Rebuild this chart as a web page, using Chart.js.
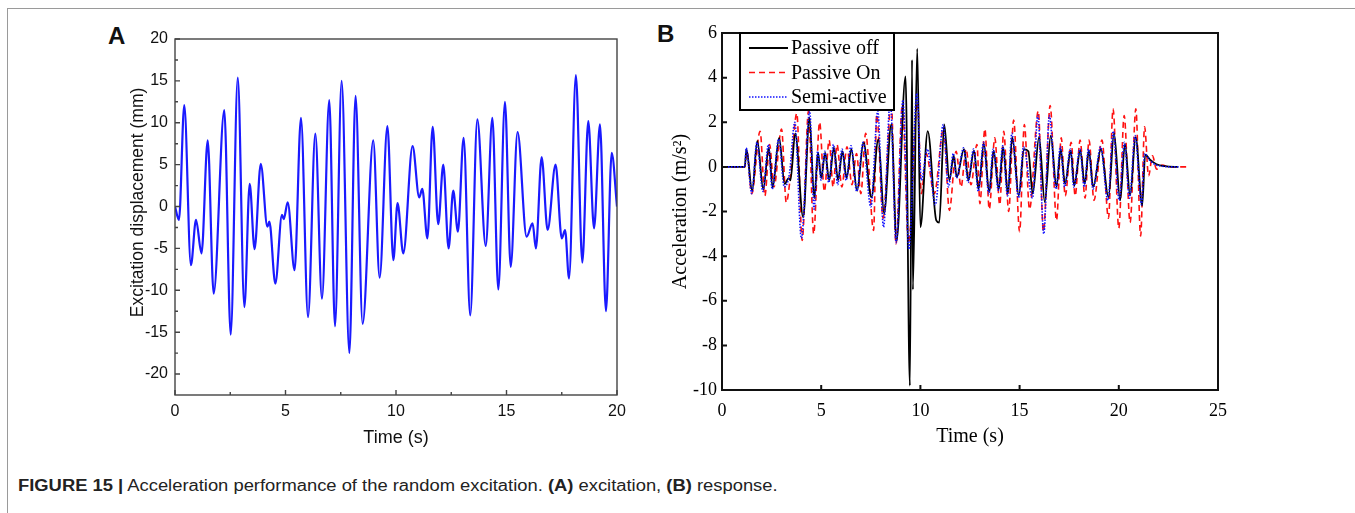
<!DOCTYPE html>
<html>
<head>
<meta charset="utf-8">
<script src="https://cdn.jsdelivr.net/npm/chart.js@4.4.1/dist/chart.umd.min.js"></script>
<style>
  body { margin: 0; background: #fff; width: 1355px; height: 513px; position: relative; overflow: hidden;
         font-family: "Liberation Sans", Arial, sans-serif; }
  #page { position: absolute; left: 7px; top: 8px; width: 1400px; height: 600px;
          border-top: 1px solid #9a9a9a; border-left: 1px solid #9a9a9a; }
  .panel { position: absolute; font-weight: bold; font-size: 24px; color: #111; }
  #caption { position: absolute; left: 18px; top: 477px; font-size: 16px; color: #222; white-space: nowrap;
             transform: scaleX(1.148); transform-origin: 0 0; }
  canvas { position: absolute; }
</style>
</head>
<body>
<div id="page"></div>
<div class="panel" style="left:108px;top:22px">A</div>
<div class="panel" style="left:657px;top:20px">B</div>
<canvas id="chartA" width="520" height="430" style="left:120px;top:20px"></canvas>
<canvas id="chartB" width="700" height="435" style="left:655px;top:15px"></canvas>
<div id="caption"><b>FIGURE 15 |</b> Acceleration performance of the random excitation. <b>(A)</b> excitation, <b>(B)</b> response.</div>
<script>
// (A) excitation displacement, mm  -- peaks and troughs
const timeA = [0, 0.18, 0.42, 0.72, 0.95, 1.2, 1.48, 1.75, 2.23, 2.52,
  2.84, 3.14, 3.38, 3.6, 3.88, 4.18, 4.27, 4.54, 4.84, 4.92,
  5.1, 5.41, 5.7, 6.02, 6.35, 6.65, 6.98, 7.24, 7.54, 7.89,
  8.17, 8.49, 8.97, 9.26, 9.61, 9.88, 10.07, 10.33, 10.75, 11.05,
  11.19, 11.42, 11.66, 11.91, 12.14, 12.38, 12.59, 12.8, 13.06, 13.36,
  13.68, 14.06, 14.36, 14.63, 14.93, 15.19, 15.5, 15.91, 16.18, 16.33,
  16.59, 16.86, 17.22, 17.5, 17.65, 17.83, 18.14, 18.43, 18.7, 18.96,
  19.23, 19.5, 19.76, 20];
const displacementA = [0, -1.6, 12.1, -7.0, -1.6, -5.6, 7.9, -10.4, 11.5, -15.3,
  15.4, -12.0, 2.7, -5.1, 5.1, -2.4, -1.8, -9.2, -1.0, -1.5,
  0.5, -7.6, 10.6, -13.2, 8.7, -11.0, 12.7, -14.3, 15.0, -17.5,
  13.2, -14.0, 7.9, -8.5, 9.6, -6.4, 0.4, -5.6, 7.2, 1.1,
  2.1, -3.8, 9.5, -2.1, 5.0, -5.0, 1.9, -3.0, 8.2, -13.0,
  10.4, -4.7, 10.6, -9.9, 12.5, -7.2, 8.9, -3.6, -2.0, -5.0,
  5.9, -2.8, 5.0, -3.8, -2.8, -8.6, 15.7, -6.7, 10.2, -2.6,
  9.8, -12.5, 6.4, 0];

// (B) acceleration response, m/s^2
const offTime = [0, 1.15, 1.23, 1.52, 1.78, 2.08, 2.36, 2.55, 2.88, 3.16,
  3.35, 3.45, 3.69, 4.09, 4.41, 4.65, 4.84, 5.0, 5.2, 5.4,
  5.64, 5.85, 6.07, 6.28, 6.52, 6.81, 7.13, 7.53, 7.88, 8.17,
  8.53, 8.8, 9.25, 9.47, 9.58, 9.62, 9.84, 10.0, 10.37, 10.8,
  10.95, 11.2, 11.46, 11.68, 11.83, 12.2, 12.42, 12.7, 12.93, 13.2,
  13.47, 13.69, 13.95, 14.17, 14.41, 14.63, 14.96, 15.22, 15.44, 15.66,
  15.98, 16.27, 16.57, 16.86, 17.07, 17.29, 17.58, 17.75, 18.06, 18.28,
  18.49, 18.71, 19.1, 19.48, 19.76, 20.07, 20.31, 20.57, 20.85, 21.18,
  21.33, 21.6, 21.9, 22.3, 22.8, 23.0];
const offAcc = [0, 0, 0.8, -1.07, 1.16, -1.0, 0.86, -0.92, 1.3, -0.77,
  -0.5, -0.6, 1.5, -2.26, 2.2, -1.4, 0.64, -0.5, 0.64, -0.6,
  0.86, -0.6, 0.7, -0.5, 0.8, -1.07, 1.1, -1.37, 1.23, -2.1,
  1.9, -3.3, 4.06, -9.8, 4.8, -5.5, 5.3, -2.7, 1.6, -2.4,
  -2.5, 1.9, -0.6, 0.5, -0.46, 0.8, -0.6, 0.73, -1.0, 1.03,
  -1.13, 0.73, -1.0, 0.88, -1.2, 1.33, -1.28, 0.8, 0.7, -1.2,
  1.33, -1.58, 1.4, -0.9, 0.8, -0.76, 0.73, -0.84, 0.73, -0.76,
  0.73, -0.9, 0.8, -1.36, 1.5, -1.5, 1.03, -1.28, 1.33, -1.73,
  0.55, 0.3, 0.12, 0.03, 0, 0];

const onTime = [0, 1.15, 1.25, 1.5, 1.92, 2.16, 2.4, 2.62, 3.0, 3.24,
  3.45, 3.77, 4.04, 4.36, 4.62, 4.92, 5.16, 5.4, 5.6, 5.8,
  6.04, 6.3, 6.55, 6.78, 7.0, 7.24, 7.64, 7.8, 8.12, 8.53, 8.77,
  9.09, 9.4, 9.86, 10.05, 10.29, 10.7, 11.17, 11.46, 11.8, 12.05,
  12.3, 12.55, 12.85, 13.0, 13.25, 13.47, 13.75, 14.0, 14.2, 14.45,
  14.7, 15.0, 15.24, 15.5, 15.94, 16.2, 16.54, 16.86, 17.1, 17.3,
  17.6, 17.8, 18.05, 18.3, 18.5, 18.75, 19.15, 19.48, 19.71, 20.0,
  20.27, 20.57, 20.86, 21.1, 21.3, 21.5, 21.7, 21.9, 22.2, 22.5,
  23.0, 23.5];
const onAcc = [0, 0, 0.7, -1.2, 1.6, -1.3, 1.0, -0.9, 1.7, -1.6,
  -0.4, 2.4, -3.3, 2.5, -3.0, 2.0, -1.1, 1.2, -0.9, 1.0,
  -0.9, 0.9, -0.8, 0.6, -1.2, 1.5, -2.85, 2.35, -2.3, 2.9, -3.45,
  2.8, -3.4, 2.9, -1.2, 0.6, -1.2, 1.75, -1.95, 0.7, -0.9,
  0.8, -0.8, 1.0, -1.65, 1.7, -1.9, 1.3, -1.7, 1.6, -2.0,
  2.1, -2.9, 1.9, -1.9, 2.5, -2.9, 2.75, -2.4, 1.3, -1.3,
  1.1, -1.3, 1.2, -1.4, 1.2, -1.5, 1.2, -2.3, 2.6, -2.75,
  2.3, -2.5, 2.6, -3.1, 1.8, -0.4, 0.5, -0.1, 0.08, 0,
  0, 0];

const semiTime = [0, 1.15, 1.22, 1.5, 1.76, 2.06, 2.34, 2.53, 2.86, 3.14,
  3.4, 3.67, 4.0, 4.42, 4.64, 4.82, 5.0, 5.18, 5.38, 5.62,
  5.83, 6.05, 6.26, 6.5, 6.79, 7.11, 7.5, 7.85, 8.14, 8.48,
  8.78, 9.12, 9.42, 9.82, 10.05, 10.35, 10.75, 11.15, 11.42, 11.66,
  11.82, 12.18, 12.4, 12.68, 12.92, 13.18, 13.45, 13.67, 13.93, 14.15,
  14.39, 14.61, 14.95, 15.2, 15.65, 15.92, 16.22, 16.5, 16.84, 17.05,
  17.27, 17.56, 17.73, 18.04, 18.26, 18.47, 18.7, 19.08, 19.45, 19.72,
  20.02, 20.28, 20.54, 20.82, 21.15, 21.3, 21.55, 21.85, 22.2, 22.6,
  23.0];
const semiAcc = [0, 0, 0.85, -1.2, 1.1, -1.1, 1.0, -1.0, 1.25, -0.9,
  -0.3, 2.0, -3.2, 2.5, -1.9, 0.7, -0.6, 0.7, -0.7, 1.0,
  -0.8, 0.8, -0.6, 0.95, -1.1, 1.1, -1.8, 2.5, -2.7, 3.0,
  -3.4, 3.0, -3.7, 3.3, -0.6, 0.8, -1.7, 1.9, -0.9, 0.6,
  -0.5, 0.85, -0.7, 0.8, -1.1, 1.1, -1.2, 0.8, -1.05, 0.95,
  -1.3, 1.5, -1.4, 0.9, -1.4, 2.3, -3.0, 2.3, -1.0, 0.9,
  -0.9, 0.8, -0.9, 0.8, -0.9, 0.8, -1.0, 0.9, -1.5, 1.6,
  -1.5, 1.1, -1.4, 1.4, -1.7, 0.6, 0.3, 0.1, 0.03, 0,
  0];

const seriesLabels = ["Passive off", "Passive On", "Semi-active"];

function toPoints(xs, ys) {
    return xs.map((x, i) => ({x: x, y: ys[i]}));
}

// box round the plot plus inward tick marks
const frameTicks = {
    id: 'frameTicks',
    afterDatasetsDraw(chart, args, o) {
        const {ctx, chartArea: a, scales} = chart;
        const xs = scales.x.ticks.map(t => t.value);
        const ys = scales.y.ticks.map(t => t.value);
        ctx.save();
        ctx.strokeStyle = o.color;
        ctx.lineWidth = o.width;
        ctx.strokeRect(a.left, a.top, a.right - a.left, a.bottom - a.top);
        ctx.beginPath();
        const xMark = (v, len) => {
            const p = scales.x.getPixelForValue(v);
            ctx.moveTo(p, a.bottom); ctx.lineTo(p, a.bottom - len);
        };
        const yMark = (v, len) => {
            const p = scales.y.getPixelForValue(v);
            ctx.moveTo(a.left, p); ctx.lineTo(a.left + len, p);
        };
        xs.forEach(v => xMark(v, o.len));
        ys.forEach(v => yMark(v, o.len));
        if (o.minor) {
            for (let i = 1; i < xs.length; i++) xMark((xs[i - 1] + xs[i]) / 2, o.minor);
            for (let i = 1; i < ys.length; i++) yMark((ys[i - 1] + ys[i]) / 2, o.minor);
        }
        ctx.stroke();
        ctx.restore();
    }
};

// legend box sitting in the top-left corner of the plot
const boxLegend = {
    id: 'boxLegend',
    afterDatasetsDraw(chart, args, o) {
        if (!o.show) return;
        const {ctx, chartArea: a} = chart;
        const x0 = a.left + o.left, y0 = a.top;
        ctx.save();
        ctx.fillStyle = '#fff';
        ctx.fillRect(x0, y0, o.width, o.height);
        ctx.strokeStyle = '#000';
        ctx.lineWidth = 2;
        ctx.strokeRect(x0, y0, o.width, o.height);
        ctx.font = o.font;
        ctx.textBaseline = 'middle';
        chart.data.datasets.forEach((ds, i) => {
            const y = y0 + o.first + i * o.step;
            ctx.setLineDash(ds.borderDash || []);
            ctx.strokeStyle = ds.borderColor;
            ctx.lineWidth = ds.borderWidth;
            ctx.beginPath();
            ctx.moveTo(x0 + 9, y);
            ctx.lineTo(x0 + 48, y);
            ctx.stroke();
            ctx.setLineDash([]);
            ctx.fillStyle = '#000';
            ctx.fillText(ds.label, x0 + 51, y + 1);
        });
        ctx.restore();
    }
};

const sans = "'Liberation Sans', Arial, sans-serif";
const serif = "'Liberation Serif', 'Times New Roman', serif";

new Chart(document.getElementById('chartA'), {
    type: 'line',
    data: {
        datasets: [{
            data: toPoints(timeA, displacementA),
            borderColor: '#1a1aff',
            borderWidth: 2.2,
            pointRadius: 0,
            cubicInterpolationMode: 'monotone'
        }]
    },
    options: {
        responsive: false,
        animation: false,
        devicePixelRatio: 1,
        layout: {padding: {top: 19, right: 23, left: 0, bottom: 0}},
        plugins: {
            legend: {display: false},
            tooltip: {enabled: false},
            frameTicks: {color: '#444', width: 1.4, len: 5, minor: 3},
            boxLegend: {show: false}
        },
        scales: {
            x: {
                type: 'linear', min: 0, max: 20,
                grid: {display: false, drawTicks: false},
                border: {display: false},
                ticks: {stepSize: 5, padding: 7, color: '#111', font: {family: sans, size: 16}},
                title: {display: true, text: 'Time (s)', color: '#111', font: {family: sans, size: 18}, padding: {bottom: 1}},
                afterFit: s => { s.height = 55; }
            },
            y: {
                type: 'linear', min: -22.5, max: 20,
                grid: {display: false, drawTicks: false},
                border: {display: false},
                afterBuildTicks: s => { s.ticks = s.ticks.filter(t => t.value % 5 === 0); },
                ticks: {stepSize: 5, padding: 7, color: '#111', font: {family: sans, size: 16}},
                // leading spaces lift the label a little, as in the original
                title: {display: true, text: '      Excitation displacement (mm)', color: '#111',
                        font: {family: sans, size: 17.5}, padding: {top: 8}},
                afterFit: s => { s.width = 55; }
            }
        }
    },
    plugins: [frameTicks, boxLegend]
});

new Chart(document.getElementById('chartB'), {
    type: 'line',
    data: {
        datasets: [{
            label: seriesLabels[0],
            data: toPoints(offTime, offAcc),
            borderColor: '#000000',
            borderWidth: 1.8,
            pointRadius: 0,
            cubicInterpolationMode: 'monotone',
            order: 1
        }, {
            label: seriesLabels[1],
            data: toPoints(onTime, onAcc),
            borderColor: '#ff1010',
            borderWidth: 1.6,
            borderDash: [6, 4],
            pointRadius: 0,
            cubicInterpolationMode: 'monotone',
            order: 2
        }, {
            label: seriesLabels[2],
            data: toPoints(semiTime, semiAcc),
            borderColor: '#1010ff',
            borderWidth: 1.6,
            borderDash: [1.5, 1.5],
            pointRadius: 0,
            cubicInterpolationMode: 'monotone',
            order: 0
        }]
    },
    options: {
        responsive: false,
        animation: false,
        devicePixelRatio: 1,
        layout: {padding: {top: 18, right: 137, left: 0, bottom: 0}},
        plugins: {
            legend: {display: false},
            tooltip: {enabled: false},
            frameTicks: {color: '#111', width: 2, len: 5, minor: 0},
            boxLegend: {show: true, left: 18, width: 154, height: 77, first: 15, step: 24.5,
                        font: "20px 'Liberation Serif', 'Times New Roman', serif"}
        },
        scales: {
            x: {
                type: 'linear', min: 0, max: 25,
                grid: {display: false, drawTicks: false},
                border: {display: false},
                ticks: {stepSize: 5, padding: 10, color: '#000', font: {family: serif, size: 18}},
                title: {display: true, text: 'Time (s)', color: '#000', font: {family: serif, size: 20}, padding: {bottom: 1}},
                afterFit: s => { s.height = 60; }
            },
            y: {
                type: 'linear', min: -10, max: 6,
                grid: {display: false, drawTicks: false},
                border: {display: false},
                ticks: {stepSize: 2, padding: 5, color: '#000', font: {family: serif, size: 18}},
                title: {display: true, text: 'Acceleration (m/s²)', color: '#000', font: {family: serif, size: 20}, padding: {top: 14}},
                afterFit: s => { s.width = 67; }
            }
        }
    },
    plugins: [frameTicks, boxLegend]
});
</script>
</body>
</html>
